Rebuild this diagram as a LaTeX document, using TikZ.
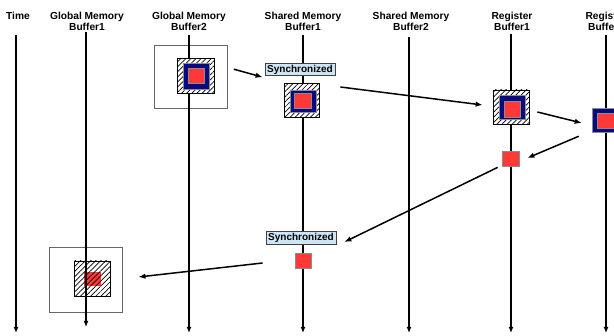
\documentclass[tikz,border=0pt]{standalone}
\usepackage{fontspec}
\setmainfont{Liberation Sans}
\usetikzlibrary{patterns.meta,arrows.meta}
\definecolor{navyc}{HTML}{0A0A80}
\definecolor{redc}{HTML}{FF3838}
\definecolor{syncc}{HTML}{CDE6F5}
\begin{document}
\begin{tikzpicture}[x=1pt,y=-1pt,
  hdr/.style={font=\fontsize{10.2}{11.5}\selectfont\bfseries, align=center, inner sep=0},
  lane/.style={line width=1.5pt, -{Latex[length=6pt,width=5pt]}},
  arr/.style={line width=1.5pt, -{Latex[length=7pt,width=5.5pt]}},
  box/.style={rectangle, inner sep=0, minimum width=#1},
  outerbox/.style={box=#1, draw=black!60, fill=white, line width=1pt},
  hatchbox/.style={box=#1, draw=black, line width=0.7pt, preaction={fill=white},
    pattern={Lines[angle=45,distance=3.6pt,line width=0.7pt]}},
  navybox/.style={box=#1, fill=navyc, draw=black!45, line width=0.5pt},
  redbox/.style={box=#1, fill=redc, draw=black!45, line width=0.8pt},
  syncbox/.style={rectangle, inner sep=0, minimum width=70pt, minimum height=12.5pt,
    fill=syncc, draw=black!75, line width=0.8pt, font=\fontsize{10}{11}\selectfont\bfseries}
]
\useasboundingbox[fill=white] (0,0) rectangle (614,336);

% headers
\node[hdr] (hT)  at (18,16)   {Time};
\node[hdr] (hG1) at (87,21.5) {Global Memory\\Buffer1};
\node[hdr] (hG2) at (189,21.5) {Global Memory\\Buffer2};
\node[hdr] (hS1) at (303,21.5) {Shared Memory\\Buffer1};
\node[hdr] (hS2) at (411,21.5) {Shared Memory\\Buffer2};
\node[hdr] (hR1) at (512,21.5) {Register\\Buffer1};
\node[hdr] (hR2) at (606,21.5) {Register\\Buffer2};

% lane endpoints
\coordinate (tT)  at (16,35);  \coordinate (bT)  at (16,333);
\coordinate (tG1) at (86,32);  \coordinate (bG1) at (86,327);
\coordinate (tG2) at (189,35); \coordinate (bG2) at (189,333);
\coordinate (tS1) at (303,35); \coordinate (bS1) at (303,333);
\coordinate (tS2) at (409,37); \coordinate (bS2) at (409,333);
\coordinate (tR1) at (511,34); \coordinate (bR1) at (511,333);
\coordinate (tR2) at (606,35); \coordinate (bR2) at (606,333);

% blocks drawn beneath the lanes
\node[outerbox=72.7pt, minimum height=65pt] (g1o) at (86.3,279.8) {};
\node[redbox=16.7pt, minimum height=14pt, draw=none] (g1r) at (92.7,278.7) {};
\node[box=36pt, minimum height=35pt, draw=black, line width=0.7pt,
      pattern={Lines[angle=45,distance=3.6pt,line width=0.7pt]}] (g1h) at (92.3,278.5) {};
\node[outerbox=73pt, minimum height=63pt] (g2o) at (190.8,76.7) {};

% lanes
\draw[lane] (tT) -- (bT);
\draw[lane] (tG1) -- (bG1);
\draw[lane] (tG2) -- (bG2);
\draw[lane] (tS1) -- (bS1);
\draw[lane] (tS2) -- (bS2);
\draw[lane] (tR1) -- (bR1);
\draw[lane] (tR2) -- (bR2);

% Global Memory Buffer2 block
\node[hatchbox=37pt, minimum height=35pt] (g2h) at (196.3,76) {};
\node[navybox=26pt, minimum height=26pt] (g2n) at (196.3,75.8) {};
\node[redbox=16pt, minimum height=15pt] (g2r) at (196.3,75.5) {};

% Shared Memory Buffer1
\node[syncbox] (sync1) at (300,69.5) {Synchronized};
\node[hatchbox=35pt, minimum height=34pt] (s1h) at (301.5,100.5) {};
\node[navybox=26pt, minimum height=22pt] (s1n) at (303,101) {};
\node[redbox=17pt, minimum height=15pt] (s1r) at (303.3,101.3) {};
\node[syncbox] (sync2) at (301,238) {Synchronized};
\node[redbox=16pt, minimum height=15pt] (s2r) at (303,260.5) {};

% Register Buffer1
\node[hatchbox=36pt, minimum height=34pt] (r1h) at (511,107) {};
\node[navybox=26pt, minimum height=24pt] (r1n) at (512,107) {};
\node[redbox=16pt, minimum height=16pt] (r1r) at (512,109) {};
\node[redbox=17pt, minimum height=15pt] (r1s) at (510.5,158.5) {};

% Register Buffer2
\node[navybox=24pt, minimum height=24pt] (r2n) at (604.5,120) {};
\node[redbox=17pt, minimum height=15pt] (r2r) at (605.5,120.5) {};

% connectors
\draw[arr] ([shift={(6,-7.5)}]g2o.east) -- ([shift={(-2,1)}]sync1.south west);
\draw[arr] ([shift={(21,-13.5)}]s1h.east) -- ([shift={(-10,-2)}]r1h.west);
\draw[arr] ([shift={(8,5)}]r1h.east) -- ([shift={(-10.5,3)}]r2n.west);
\draw[arr] ([shift={(-13.5,4)}]r2n.south west) -- ([shift={(8,-0.5)}]r1s.east);
\draw[arr] ([shift={(-4,1)}]r1s.south west) -- ([shift={(8,4)}]sync2.east);
\draw[arr] ([shift={(-32,2.5)}]s2r.west) -- ([shift={(15.3,-2.8)}]g1o.east);
\end{tikzpicture}
\end{document}
